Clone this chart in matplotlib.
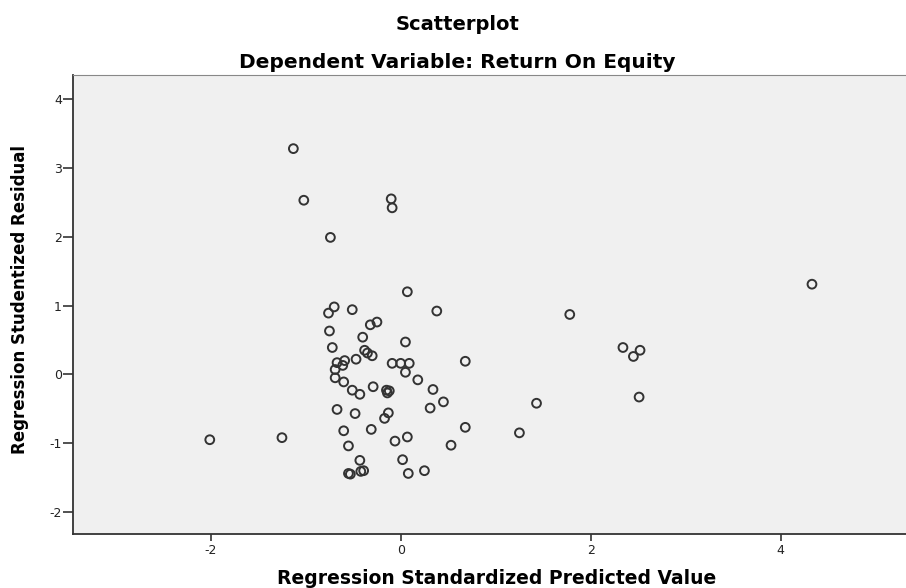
"""
SPSS style residual scatterplot for the Return On Equity regression.
"""

import matplotlib
matplotlib.use("Agg")
import matplotlib.pyplot as plt

plt.rcParams["axes.unicode_minus"] = False

# standardized predicted value (x) and studentized residual (y)
pred = [-1.13, -1.02, -0.10, -0.09, -0.74, 0.07, 4.33,
        -0.70, -0.76, -0.51, 0.38, -0.32, -0.25, -0.75, -0.40, 0.05,
        -0.72, -0.38, -0.35, -0.30, -0.47, -0.59, -0.67, -0.61, -0.09,
        0.00, 0.09, 0.68, -0.69, 0.05, -0.69, -0.60, 0.18, -0.51,
        -0.43, -0.29, -0.15, -0.12, -0.14, 0.34, 0.45, 0.31, -0.67,
        -0.48, -0.13, -0.17, -0.60, -0.31, 0.68, -1.25, -0.06, 0.07,
        -0.55, 0.53, -0.43, 0.02, -0.55, -0.53, -0.42, -0.39, 0.08,
        0.25, 1.25, 1.78, 2.34, 2.52, 2.45, 2.51, 1.43, -2.01]
resid = [3.28, 2.53, 2.55, 2.42, 1.99, 1.20, 1.31,
         0.98, 0.89, 0.94, 0.92, 0.72, 0.76, 0.63, 0.54, 0.47,
         0.39, 0.35, 0.31, 0.27, 0.22, 0.20, 0.17, 0.13, 0.16,
         0.16, 0.16, 0.19, 0.07, 0.03, -0.05, -0.11, -0.08, -0.23,
         -0.29, -0.18, -0.23, -0.24, -0.27, -0.22, -0.40, -0.49, -0.51,
         -0.57, -0.56, -0.64, -0.82, -0.80, -0.77, -0.92, -0.97, -0.91,
         -1.04, -1.03, -1.25, -1.24, -1.44, -1.45, -1.41, -1.40, -1.44,
         -1.40, -0.85, 0.87, 0.39, 0.35, 0.26, -0.33, -0.42, -0.95]

x_ticks = [-2, 0, 2, 4]
y_ticks = [-2, -1, 0, 1, 2, 3, 4]

title = "Scatterplot"
subtitle = "Dependent Variable: Return On Equity"
x_label = "Regression Standardized Predicted Value"
y_label = "Regression Studentized Residual"

fig = plt.figure(figsize=(9.06, 5.88), dpi=100)
ax = fig.add_axes([73 / 906, 54 / 588, 833 / 906, 459 / 588])
ax.set_facecolor("#f0f0f0")

ax.scatter(pred, resid, s=40, facecolors="none", edgecolors="#333333",
           linewidths=1.4, zorder=3)

ax.set_xlim(-3.45, 5.32)
ax.set_ylim(-2.32, 4.35)
ax.set_xticks(x_ticks)
ax.set_yticks(y_ticks)
ax.tick_params(axis="x", length=5, width=1.2, color="#333333", labelsize=9,
               labelcolor="#222222", pad=2)
ax.tick_params(axis="y", length=7, width=1.2, color="#333333", labelsize=9,
               labelcolor="#222222", pad=1)

for side in ["left", "bottom"]:
    ax.spines[side].set_color("#333333")
    ax.spines[side].set_linewidth(1.3)
ax.spines["top"].set_color("#888888")
ax.spines["right"].set_visible(False)

fig.text(0.505, 1 - 25 / 588, title, ha="center", va="center",
         fontsize=14, fontweight="bold")
fig.text(0.505, 1 - 63 / 588, subtitle, ha="center", va="center",
         fontsize=14.5, fontweight="bold")
fig.text(497 / 906, 1 - 578 / 588, x_label, ha="center", va="center",
         fontsize=13.5, fontweight="bold")
fig.text(20 / 906, 1 - 300 / 588, y_label, ha="center", va="center",
         rotation=90, fontsize=12, fontweight="bold")

fig.savefig("out.png", dpi=100)
